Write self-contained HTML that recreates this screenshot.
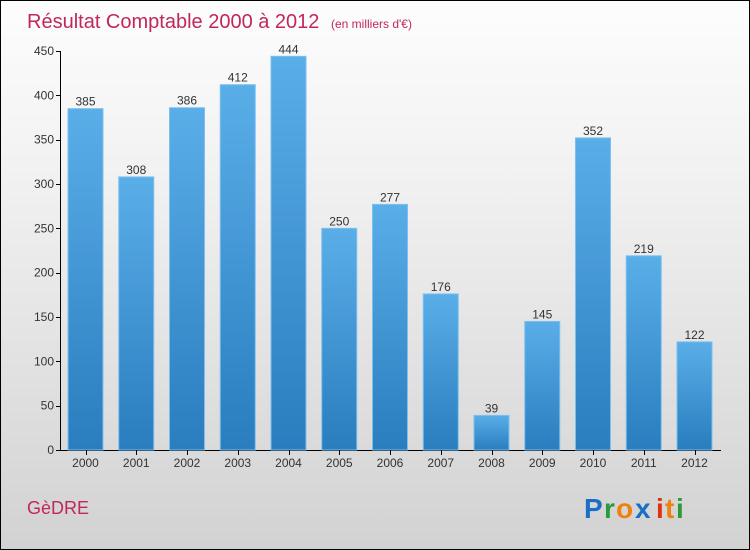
<!DOCTYPE html>
<html><head><meta charset="utf-8"><style>
body{margin:0}
#c{width:748px;height:548px;border:1px solid #000;background:linear-gradient(#fdfdfd,#f2f2f2 30%,#d2d2d2);position:relative;overflow:hidden;font-family:"Liberation Sans",sans-serif}
</style></head><body>
<div id="c">
<svg id="s" width="748" height="548" xmlns="http://www.w3.org/2000/svg">
<defs><linearGradient id="g" x1="0" y1="0" x2="0" y2="1"><stop offset="0" stop-color="#5aaee8"/><stop offset="1" stop-color="#2a7dbe"/></linearGradient></defs>
<text x="26" y="27" font-size="20" fill="#c0285a">Résultat Comptable 2000 à 2012 <tspan font-size="12" dx="6">(en milliers d'€)</tspan></text>
<text x="26" y="513" font-size="18" fill="#c0285a">GèDRE</text>
<g font-size="28" font-weight="bold">
<text x="583" y="517" fill="#1a6fc4">P</text><text x="603" y="517" fill="#2a9a3a">r</text><text x="615" y="517" fill="#f08010">o</text><text x="634" y="517" fill="#1a6fc4">x</text><text x="655" y="517" fill="#e03010">i</text><text x="664" y="517" fill="#f08010">t</text><text x="675" y="517" fill="#2a9a3a">i</text>
</g>
<g id="plot"></g>
</svg></div>
<script>
const years=["2000","2001","2002","2003","2004","2005","2006","2007","2008","2009","2010","2011","2012"];
const values=[385,308,386,412,444,250,277,176,39,145,352,219,122];
const ticks=[0,50,100,150,200,250,300,350,400,450];
const ns="http://www.w3.org/2000/svg";
const g=document.getElementById('plot');
const y=v=>449-v*(399/450);
const x=i=>84.5+i*50.75;
function el(t,a){const e=document.createElementNS(ns,t);for(const k in a)e.setAttribute(k,a[k]);g.appendChild(e);return e;}
const ax=el('line',{x1:59.5,y1:50,x2:59.5,y2:449.5,stroke:'#000'});


const bx=el('line',{x1:59.5,y1:449.5,x2:720,y2:449.5,stroke:'#000'});


ticks.forEach(t=>{
 const l=el('line',{x1:55,x2:60,y1:Math.round(y(t))+.5,y2:Math.round(y(t))+.5,stroke:'#000'});
 
 
 const tx=el('text',{x:53,y:y(t)+4,'font-size':12,'text-anchor':'end',fill:'#333'});tx.textContent=t;
 
 
});
values.forEach((v,i)=>{
 const r=el('rect',{x:x(i)-17.5,y:y(v),width:35,height:449-y(v),fill:'url(#g)',stroke:'#7cc0f0','stroke-width':1});
 
 
 const vl=el('text',{x:x(i),y:y(v)-3,'font-size':12,'text-anchor':'middle',fill:'#333'});vl.textContent=v;
 
 
 const tk=el('line',{x1:Math.round(x(i))+.5,x2:Math.round(x(i))+.5,y1:449,y2:454,stroke:'#000'});
 
 
 const xl=el('text',{x:x(i),y:466,'font-size':12,'text-anchor':'middle',fill:'#333'});xl.textContent=years[i];
 
 
});
</script>
</body></html>
